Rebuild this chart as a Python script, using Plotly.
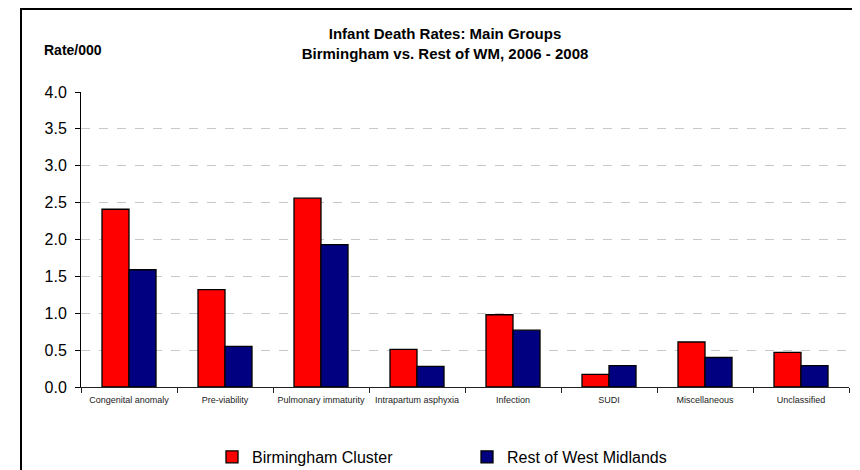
import plotly.graph_objects as go

categories = ["Congenital anomaly", "Pre-viability", "Pulmonary immaturity",
              "Intrapartum asphyxia", "Infection", "SUDI", "Miscellaneous", "Unclassified"]
birmingham = [2.41, 1.32, 2.56, 0.51, 0.98, 0.17, 0.61, 0.47]
rest_wm = [1.59, 0.55, 1.93, 0.28, 0.77, 0.29, 0.40, 0.29]
y_ticks = [0.0, 0.5, 1.0, 1.5, 2.0, 2.5, 3.0, 3.5, 4.0]

FONT = "Liberation Sans, Arial, sans-serif"

# plot area (figure pixels): left 73, top 84, width 768, height 295
L, T, W, H = 73, 84, 768, 295
Y0 = T + H


def px(xpix):
    return (xpix - L) / W


def py(ypix):
    return (Y0 - ypix) / H


fig = go.Figure()
fig.add_trace(go.Bar(x=categories, y=birmingham, name="Birmingham Cluster",
                     marker=dict(color="#FF0000", line=dict(color="#000000", width=1.3))))
fig.add_trace(go.Bar(x=categories, y=rest_wm, name="Rest of West Midlands",
                     marker=dict(color="#000080", line=dict(color="#000000", width=1.3))))

fig.update_layout(
    width=860, height=470,
    margin=dict(l=L, r=860 - L - W, t=T, b=470 - T - H, autoexpand=False),
    paper_bgcolor="white", plot_bgcolor="white",
    barmode="group", bargap=0.4375, bargroupgap=0,
    font=dict(family=FONT, color="black"),
    title=dict(text="<b>Infant Death Rates: Main Groups<br>Birmingham vs. Rest of WM, 2006 - 2008</b>",
               x=0.474, xref="paper", xanchor="center",
               y=1 - 31 / 470, yref="container", yanchor="middle",
               font=dict(size=15, family=FONT, color="black")),
    showlegend=True,
    legend=dict(orientation="h", x=px(204), xanchor="left", y=py(449), yanchor="middle",
                font=dict(size=16, family=FONT, color="black"),
                entrywidth=210, bgcolor="rgba(0,0,0,0)"),
    xaxis=dict(showline=True, linecolor="#222222", linewidth=1,
               ticks="outside", ticklen=5, tickcolor="#222222", tickson="boundaries",
               tickangle=0, automargin=False, ticklabelstandoff=4,
               tickfont=dict(size=9, family=FONT, color="#222222"),
               showgrid=False, zeroline=False),
    yaxis=dict(range=[0, 4], tickvals=y_ticks, ticktext=[f"{v:.1f}" for v in y_ticks],
               showline=True, linecolor="black", linewidth=1, automargin=False,
               ticks="outside", ticklen=5, tickcolor="black", ticklabelstandoff=5,
               tickfont=dict(size=16, family=FONT, color="black"),
               showgrid=True, gridcolor="#c8c8c8", griddash="dash", gridwidth=1,
               zeroline=False),
    annotations=[dict(text="<b>Rate/000</b>", xref="paper", yref="paper",
                      x=px(33.5), y=py(42), xanchor="left", yanchor="middle",
                      showarrow=False, font=dict(size=14, family=FONT, color="black"))],
    shapes=[dict(type="rect", xref="paper", yref="paper",
                 x0=px(13), x1=1.2, y0=-0.6, y1=py(1),
                 line=dict(color="black", width=2), fillcolor="rgba(0,0,0,0)", layer="above")],
)

fig.write_html("out.html")
